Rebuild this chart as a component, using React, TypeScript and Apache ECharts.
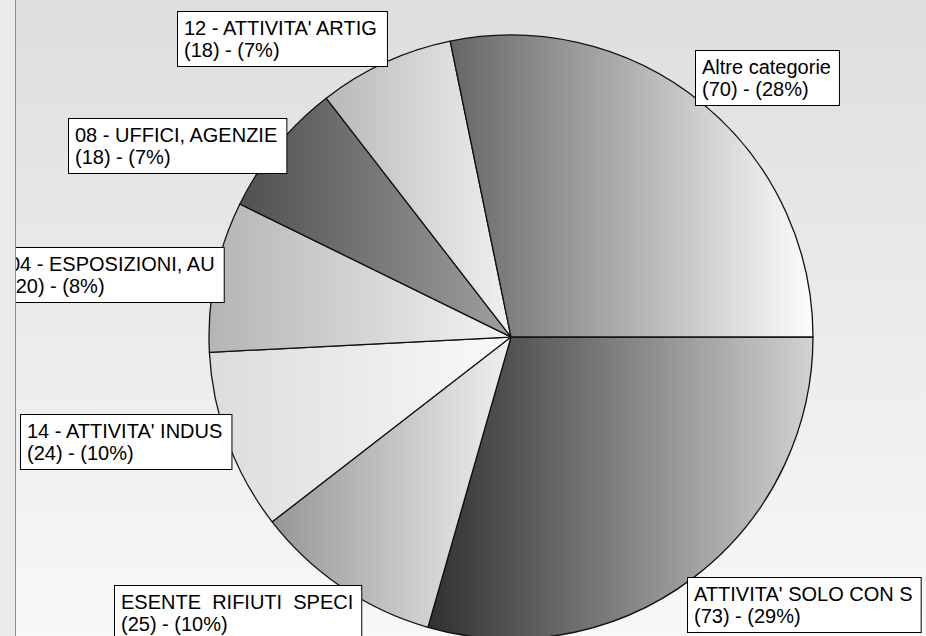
import React, { useEffect, useRef } from "react";
import * as echarts from "echarts";

const categories = [
  "ATTIVITA' SOLO CON S",
  "ESENTE  RIFIUTI  SPECI",
  "14 - ATTIVITA' INDUS",
  "04 - ESPOSIZIONI, AU",
  "08 - UFFICI, AGENZIE",
  "12 - ATTIVITA' ARTIG",
  "Altre categorie",
];
const values = [73, 25, 24, 20, 18, 18, 70];
const gradLeft = ["#303030", "#969696", "#dcdcdc", "#b4b4b4", "#505050", "#b8b8b8", "#666666"];
const gradRight = ["#d2d2d2", "#f0f0f0", "#fafafa", "#f4f4f4", "#a0a0a0", "#f0f0f0", "#fdfdfd"];
// label box top-left positions
const labelX = [688, 115, 21, 3, 69, 178, 696];
const labelY = [578, 586, 415, 248, 119, 12, 51];

export default function App() {
  const ref = useRef<HTMLDivElement>(null);
  useEffect(() => {
    if (!ref.current) return;
    const chart = echarts.init(ref.current, null, { renderer: "svg" });
    const total = values.reduce((a, b) => a + b, 0);
    chart.setOption({
      animation: false,
      backgroundColor: {
        type: "linear",
        x: 0,
        y: 0,
        x2: 0,
        y2: 1,
        colorStops: [
          { offset: 0, color: "#dedede" },
          { offset: 1, color: "#f8f8f8" },
        ],
      },
      textStyle: { fontFamily: "'Liberation Sans', Arial, sans-serif" },
      graphic: {
        elements: [
          {
            type: "rect",
            z: 100,
            shape: { x: 0, y: 0, width: 15, height: 636 },
            style: { fill: "#ebebeb" },
          },
          {
            type: "line",
            z: 101,
            shape: { x1: 15.5, y1: 0, x2: 15.5, y2: 636 },
            style: { stroke: "#8c8c8c", lineWidth: 1 },
          },
        ],
      },
      series: [
        {
          type: "pie",
          center: [511, 337],
          radius: 302,
          startAngle: 0,
          clockwise: true,
          avoidLabelOverlap: false,
          labelLine: { show: false },
          emphasis: { disabled: true },
          itemStyle: { borderColor: "#111111", borderWidth: 1.3 },
          label: {
            show: true,
            position: "outside",
            formatter: (p: any) =>
              `${p.name}\n(${p.value}) - (${Math.round((p.value / total) * 100)}%)`,
            color: "#000000",
            fontFamily: "'Liberation Sans', Arial, sans-serif",
            fontSize: 20,
            lineHeight: 22,
            backgroundColor: "#ffffff",
            borderColor: "#000000",
            borderWidth: 1,
            padding: [5, 8, 5, 6],
          },
          labelLayout: (params: any) => ({
            x: labelX[params.dataIndex],
            y: labelY[params.dataIndex],
            align: "left",
            verticalAlign: "top",
          }),
          data: categories.map((name, i) => ({
            name,
            value: values[i],
            itemStyle: {
              color: {
                type: "linear",
                x: 0,
                y: 0,
                x2: 1,
                y2: 0,
                colorStops: [
                  { offset: 0, color: gradLeft[i] },
                  { offset: 1, color: gradRight[i] },
                ],
              },
            },
          })),
        },
      ],
    });
    return () => chart.dispose();
  }, []);
  return (
    <div
      ref={ref}
      style={{ position: "absolute", left: 0, top: 0, width: 926, height: 636 }}
    />
  );
}
